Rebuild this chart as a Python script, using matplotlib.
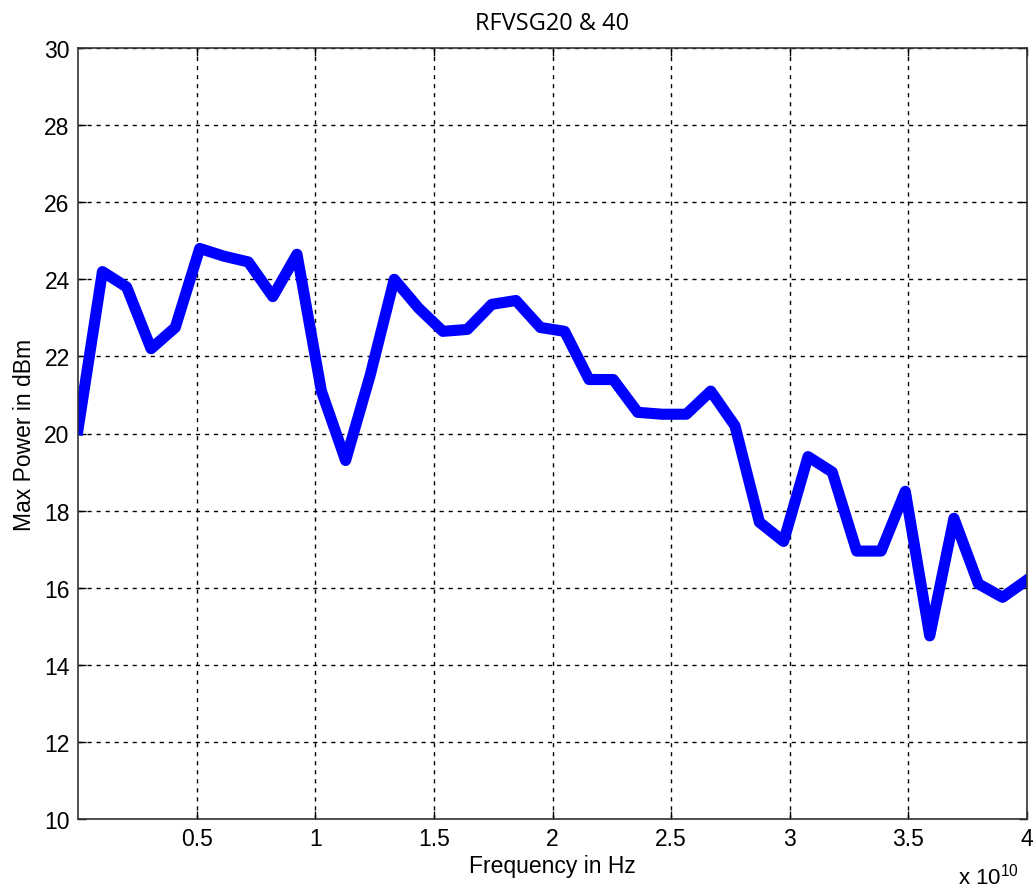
import matplotlib.pyplot as plt

# frequency points (GHz) and max power (dBm)
freq_ghz = [0.00, 1.03, 2.05, 3.08, 4.10, 5.13, 6.15, 7.18, 8.21, 9.23,
            10.26, 11.28, 12.31, 13.33, 14.36, 15.38, 16.41, 17.44, 18.46, 19.49,
            20.51, 21.54, 22.56, 23.59, 24.62, 25.64, 26.67, 27.69, 28.72, 29.74,
            30.77, 31.79, 32.82, 33.85, 34.87, 35.90, 36.92, 37.95, 38.97, 40.00]
power_dbm = [20.1, 24.2, 23.8, 22.2, 22.75, 24.8, 24.6, 24.45, 23.55, 24.65,
             21.1, 19.3, 21.5, 24.0, 23.25, 22.65, 22.7, 23.35, 23.45, 22.75,
             22.65, 21.4, 21.4, 20.55, 20.5, 20.5, 21.1, 20.2, 17.7, 17.2,
             19.4, 19.0, 16.95, 16.95, 18.5, 14.75, 17.8, 16.1, 15.75, 16.2]

xticks = [0.5, 1, 1.5, 2, 2.5, 3, 3.5, 4]
xtick_labels = ["0.5", "1", "1.5", "2", "2.5", "3", "3.5", "4"]
yticks = [10, 12, 14, 16, 18, 20, 22, 24, 26, 28, 30]

freq_hz = [f * 1e9 for f in freq_ghz]

plt.rcParams['font.family'] = ['Liberation Sans', 'DejaVu Sans']
plt.rcParams['mathtext.fontset'] = 'custom'
plt.rcParams['mathtext.rm'] = 'Liberation Sans'

fig = plt.figure(figsize=(10.35, 8.95), dpi=100)
ax = fig.add_axes([78 / 1035, 1 - 820 / 895, (1027 - 78) / 1035, (820 - 49) / 895])

ax.plot(freq_hz, power_dbm, color='#0000ff', linewidth=8, solid_joinstyle='round')

ax.set_xlim(0, 4e10)
ax.set_ylim(10, 30)
ax.set_xticks([t * 1e10 for t in xticks])
ax.set_xticklabels(xtick_labels)
ax.set_yticks(yticks)

ax.grid(True, color='black', linestyle=(0, (3, 3.5)), linewidth=1.0)
ax.tick_params(direction='in', top=True, right=True, length=6, width=1,
               labelsize=16.5, pad=6)
for s in ax.spines.values():
    s.set_linewidth(1.2)
    s.set_color('#333333')

ax.set_title("RFVSG20 & 40", fontsize=17, pad=14, family=['Open Sans', 'DejaVu Sans'])
ax.set_xlabel("Frequency in Hz", fontsize=16.5, labelpad=3)
ax.set_ylabel("Max Power in dBm", fontsize=16.5, labelpad=6)

fig.text(958 / 1035, 1 - 885 / 895, r"x 10$^{10}$", fontsize=16, va='baseline')

fig.savefig("out.png", dpi=100)
plt.close(fig)
